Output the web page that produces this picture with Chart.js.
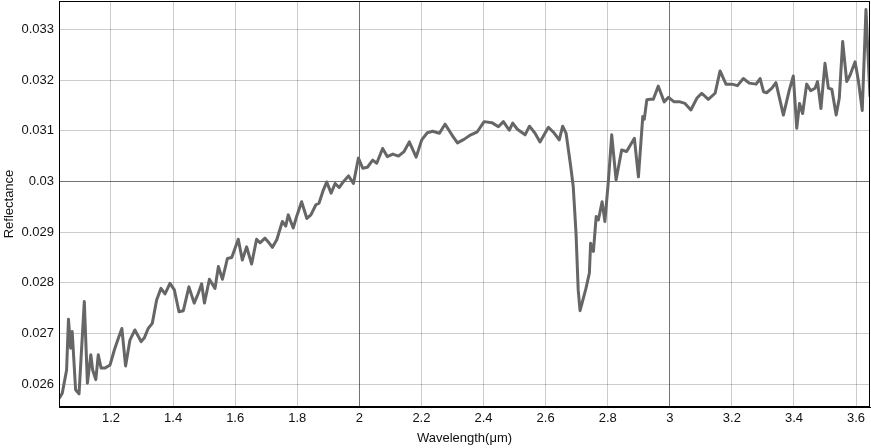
<!DOCTYPE html>
<html>
<head>
<meta charset="utf-8">
<script src="https://cdn.jsdelivr.net/npm/chart.js@4/dist/chart.umd.min.js"></script>
<style>
  html, body { margin: 0; padding: 0; background: #fff; }
  #wrap { width: 871px; height: 448px; }
</style>
</head>
<body>
<div id="wrap"><canvas id="myChart"></canvas></div>
<script>
// spectrum
const wavelength = [1.033, 1.043, 1.057, 1.063, 1.070, 1.075, 1.086, 1.097, 1.114, 1.124, 1.135, 1.141, 1.151, 1.159, 1.168, 1.181, 1.197, 1.211, 1.224, 1.235,
  1.247, 1.261, 1.277, 1.297, 1.307, 1.320, 1.333, 1.347, 1.361, 1.374, 1.390, 1.404, 1.419, 1.433, 1.451, 1.468, 1.481, 1.492, 1.501, 1.517,
  1.535, 1.546, 1.559, 1.575, 1.589, 1.610, 1.623, 1.637, 1.653, 1.669, 1.680, 1.696, 1.709, 1.720, 1.734, 1.752, 1.763, 1.771, 1.787, 1.798,
  1.814, 1.831, 1.844, 1.860, 1.870, 1.884, 1.895, 1.909, 1.922, 1.935, 1.948, 1.965, 1.981, 1.997, 2.011, 2.026, 2.043, 2.056, 2.075, 2.090,
  2.108, 2.126, 2.144, 2.161, 2.183, 2.201, 2.219, 2.236, 2.258, 2.276, 2.298, 2.316, 2.337, 2.359, 2.380, 2.402, 2.427, 2.448, 2.464, 2.483,
  2.494, 2.509, 2.534, 2.548, 2.566, 2.582, 2.609, 2.627, 2.644, 2.655, 2.666, 2.681, 2.689, 2.698, 2.705, 2.711, 2.720, 2.730, 2.741, 2.745,
  2.754, 2.763, 2.770, 2.782, 2.791, 2.802, 2.813, 2.827, 2.845, 2.861, 2.886, 2.899, 2.913, 2.918, 2.926, 2.937, 2.947, 2.963, 2.982, 2.996,
  3.014, 3.033, 3.049, 3.068, 3.087, 3.103, 3.124, 3.146, 3.162, 3.181, 3.200, 3.218, 3.237, 3.256, 3.278, 3.291, 3.302, 3.312, 3.329, 3.342,
  3.366, 3.385, 3.398, 3.409, 3.418, 3.428, 3.441, 3.454, 3.468, 3.476, 3.487, 3.500, 3.511, 3.522, 3.536, 3.546, 3.557, 3.570, 3.581, 3.597,
  3.608, 3.620, 3.632, 3.645];
const reflectance = [0.02572, 0.02582, 0.02628, 0.02728, 0.02671, 0.02704, 0.02589, 0.02581, 0.02763, 0.02602, 0.02658, 0.02628, 0.02609, 0.02658, 0.02632, 0.02632, 0.02638, 0.02668, 0.02691, 0.02710,
  0.02636, 0.02687, 0.02707, 0.02684, 0.02691, 0.02710, 0.02720, 0.02766, 0.02789, 0.02778, 0.02799, 0.02786, 0.02743, 0.02745, 0.02792, 0.02760, 0.02779, 0.02798, 0.02760, 0.02807,
  0.02789, 0.02832, 0.02807, 0.02848, 0.02850, 0.02886, 0.02845, 0.02871, 0.02837, 0.02886, 0.02879, 0.02888, 0.02879, 0.02870, 0.02885, 0.02921, 0.02912, 0.02934, 0.02908, 0.02931,
  0.02960, 0.02927, 0.02934, 0.02954, 0.02957, 0.02983, 0.02999, 0.02977, 0.02996, 0.02988, 0.02999, 0.03011, 0.02996, 0.03046, 0.03026, 0.03028, 0.03042, 0.03036, 0.03065, 0.03049,
  0.03054, 0.03050, 0.03059, 0.03078, 0.03048, 0.03082, 0.03096, 0.03099, 0.03095, 0.03113, 0.03092, 0.03076, 0.03083, 0.03092, 0.03098, 0.03118, 0.03116, 0.03108, 0.03118, 0.03101,
  0.03115, 0.03103, 0.03092, 0.03109, 0.03095, 0.03078, 0.03107, 0.03096, 0.03082, 0.03109, 0.03095, 0.03029, 0.02990, 0.02898, 0.02786, 0.02745, 0.02766, 0.02789, 0.02819, 0.02878,
  0.02862, 0.02931, 0.02924, 0.02960, 0.02921, 0.02999, 0.03092, 0.03003, 0.03062, 0.03059, 0.03085, 0.03009, 0.03128, 0.03123, 0.03161, 0.03162, 0.03162, 0.03188, 0.03157, 0.03166,
  0.03157, 0.03157, 0.03154, 0.03141, 0.03164, 0.03174, 0.03162, 0.03174, 0.03218, 0.03192, 0.03192, 0.03189, 0.03203, 0.03194, 0.03192, 0.03203, 0.03177, 0.03175, 0.03184, 0.03195,
  0.03131, 0.03180, 0.03208, 0.03105, 0.03154, 0.03134, 0.03192, 0.03179, 0.03184, 0.03197, 0.03144, 0.03233, 0.03184, 0.03182, 0.03131, 0.03164, 0.03276, 0.03197, 0.03210, 0.03236,
  0.03197, 0.03140, 0.03339, 0.03167];
const xRange = [1.0325, 3.645];
const yRange = [0.02555, 0.03356];

const points = wavelength.map((w, i) => ({ x: w, y: reflectance[i] }));

function fmt(v) {
  return String(Math.round(v * 10000) / 10000);
}

// box around the plot area (top and right sides)
const frame = {
  id: "frame",
  afterDraw(chart) {
    const a = chart.chartArea;
    const c = chart.ctx;
    c.save();
    c.strokeStyle = "#000";
    c.lineWidth = 1;
    c.strokeRect(a.left + 0.5, a.top + 0.5, a.right - a.left - 1, a.bottom - a.top - 1);
    c.restore();
  }
};

Chart.defaults.font.family = "'Liberation Sans', Arial, sans-serif";
Chart.defaults.font.size = 13;
Chart.defaults.color = "#111";

var ctx = document.getElementById("myChart");
var myChart = new Chart(ctx, {
  type: "line",
  data: {
    datasets: [
      {
        label: "Reflectance",
        data: points,
        borderColor: "#666666",
        borderWidth: 3,
        pointRadius: 0,
        tension: 0,
        borderJoinStyle: "round",
      },
    ],
  },
  options: {
    responsive: true,
    maintainAspectRatio: false,
    animation: false,
    layout: { padding: { top: 1, right: 1, left: 0, bottom: 0 } },
    plugins: { legend: { display: false }, tooltip: { enabled: false } },
    scales: {
      x: {
        type: "linear",
        min: xRange[0],
        max: xRange[1],
        afterFit(scale) {
          scale.height = 41;
          scale.paddingLeft = 0;
          scale.paddingRight = 0;
        },
        grid: {
          drawTicks: false,
          color: (c) => Number.isInteger(Math.round(c.tick.value * 1000) / 1000) ? "rgba(0,0,0,0.55)" : "rgba(0,0,0,0.2)",
        },
        border: { color: "#000", width: 1 },
        ticks: { stepSize: 0.2, includeBounds: false, padding: 4, maxRotation: 0, callback: (v) => fmt(v) },
        title: { display: true, text: "Wavelength(μm)", padding: { top: 0, bottom: 2 } },
      },
      y: {
        min: yRange[0],
        max: yRange[1],
        afterFit(scale) {
          scale.width = 59;
          scale.paddingTop = 0;
          scale.paddingBottom = 0;
        },
        grid: {
          drawTicks: false,
          color: (c) => Math.abs(c.tick.value - 0.03) < 1e-7 ? "rgba(0,0,0,0.55)" : "rgba(0,0,0,0.2)",
        },
        border: { color: "#000", width: 1 },
        ticks: { stepSize: 0.001, includeBounds: false, padding: 5, callback: (v) => fmt(v) },
        title: { display: true, text: "Reflectance", padding: { top: 2, bottom: 0 } },
      },
    },
  },
  plugins: [frame],
});
</script>
</body>
</html>
